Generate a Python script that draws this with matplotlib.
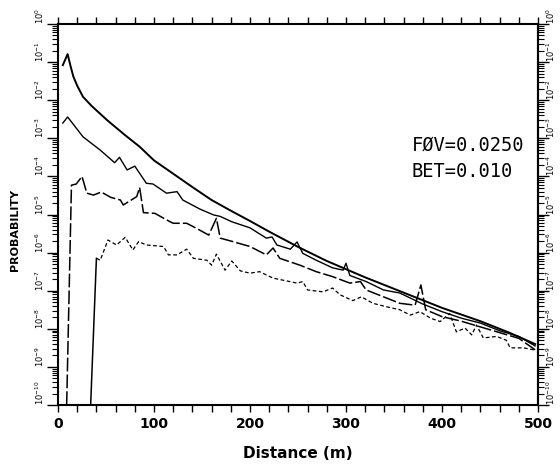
import matplotlib
matplotlib.use('Agg')
import matplotlib.pyplot as plt
import numpy as np
from matplotlib.ticker import FixedLocator, LogLocator, NullFormatter

# Values (distance in m, probability as log10)
a_x = [5, 10, 13, 16, 20, 26, 35, 51, 70, 85, 100, 120, 140, 160, 180,
       200, 220, 250, 280, 320, 360, 400, 440, 470, 497]
a_log = [-1.08, -0.79, -1.10, -1.38, -1.62, -1.91, -2.15, -2.52, -2.92,
         -3.22, -3.58, -3.93, -4.28, -4.62, -4.90, -5.17, -5.45, -5.85,
         -6.22, -6.65, -7.05, -7.45, -7.80, -8.10, -8.40]

b_x = [5, 10, 26, 44, 59, 64, 72, 80, 92, 99, 113, 124, 130, 148, 162,
       169, 181, 200, 217, 223, 228, 242, 249, 255, 269, 286, 297, 300,
       304, 321, 339, 356, 380, 400, 420, 440, 460, 480, 497]
b_log = [-2.60, -2.44, -2.96, -3.31, -3.64, -3.50, -3.83, -3.73, -4.18,
         -4.20, -4.44, -4.40, -4.62, -4.86, -5.01, -5.05, -5.19, -5.35,
         -5.62, -5.59, -5.80, -5.91, -5.72, -6.02, -6.20, -6.40, -6.46,
         -6.28, -6.60, -6.76, -6.98, -7.06, -7.35, -7.55, -7.72, -7.85,
         -8.05, -8.20, -8.45]

c_x = [9, 14, 19, 25, 30, 37, 45, 55, 65, 68, 82, 85, 89, 101, 113, 120,
       134, 144, 157, 165, 169, 182, 200, 217, 224, 231, 252, 269, 286,
       304, 315, 321, 339, 356, 372, 378, 383, 400, 420, 440, 460, 480, 497]
c_log = [-10.0, -4.23, -4.20, -4.00, -4.44, -4.49, -4.41, -4.55, -4.62,
         -4.75, -4.53, -4.29, -4.95, -4.97, -5.14, -5.23, -5.23, -5.36,
         -5.54, -5.10, -5.62, -5.71, -5.84, -6.06, -5.88, -6.15, -6.33,
         -6.50, -6.63, -6.80, -6.76, -6.98, -7.16, -7.33, -7.38, -6.85,
         -7.50, -7.68, -7.80, -7.95, -8.10, -8.25, -8.55]

d_x = [34, 40, 44, 52, 61, 70, 78, 84, 92, 110, 115, 124, 134, 141, 155,
       160, 165, 174, 181, 190, 200, 210, 224, 249, 255, 260, 276, 286,
       294, 307, 316, 328, 342, 356, 367, 377, 388, 398, 408, 415, 424,
       431, 436, 443, 457, 467, 471, 485, 497]
d_log = [-10.0, -6.15, -6.20, -5.67, -5.80, -5.60, -5.93, -5.71, -5.80,
         -5.84, -6.06, -6.06, -5.91, -6.15, -6.20, -6.33, -6.04, -6.46,
         -6.22, -6.48, -6.54, -6.50, -6.67, -6.80, -6.76, -6.98, -7.03,
         -6.93, -7.11, -7.26, -7.16, -7.33, -7.42, -7.50, -7.64, -7.55,
         -7.72, -7.81, -7.60, -8.08, -7.98, -8.16, -7.90, -8.24, -8.20,
         -8.30, -8.50, -8.50, -8.56]

x_major = [0, 100, 200, 300, 400, 500]
y_decades = list(range(-10, 1))
y_major = [10.0 ** d for d in y_decades]

fig = plt.figure(figsize=(5.6, 4.68), dpi=100)
ax = fig.add_axes([0.1036, 0.1346, 0.8571, 0.8141])

ax.plot(a_x, 10.0 ** np.array(a_log), color='black', lw=1.4)
ax.plot(b_x, 10.0 ** np.array(b_log), color='black', lw=1.0)
ax.plot(c_x, 10.0 ** np.array(c_log), color='black', lw=1.1,
        dashes=(9, 2))
# the short-dash curve rises with a solid stroke, then turns dashed
d_y = 10.0 ** np.array(d_log)
ax.plot(d_x[:2], d_y[:2], color='black', lw=1.1)
ax.plot(d_x[1:], d_y[1:], color='black', lw=0.9, dashes=(3, 2))

ax.set_xlim(0, 500)
ax.set_yscale('log')
ax.set_ylim(1e-10, 1)

ax.set_xticks(x_major)
ax.xaxis.set_minor_locator(FixedLocator(np.arange(0, 501, 20)))
ax.yaxis.set_major_locator(FixedLocator(y_major))
ax.yaxis.set_minor_locator(LogLocator(base=10, subs=np.arange(2, 10),
                                      numticks=20))
ax.yaxis.set_minor_formatter(NullFormatter())

ax.tick_params(axis='x', which='both', direction='out', top=True,
               bottom=True, length=5, width=1.0)
ax.tick_params(axis='y', which='major', direction='out', left=True,
               right=True, labelright=False, length=8, width=1.0, pad=0.5,
               labelsize=6, labelrotation=90)
ax.tick_params(axis='y', which='minor', direction='out', left=True,
               right=True, length=4, width=0.8)
for lab in ax.get_xticklabels():
    lab.set_fontweight('bold')
    lab.set_fontsize(10)
for lab in ax.get_yticklabels():
    lab.set_va('bottom')

# right-hand labels sit a little closer to the frame
sec = ax.secondary_yaxis('right')
sec.set_yticks(y_major)
sec.yaxis.set_minor_formatter(NullFormatter())
sec.tick_params(which='both', length=0, pad=5, labelsize=6,
                labelrotation=90)
for lab in sec.get_yticklabels():
    lab.set_va('bottom')
sec.spines['right'].set_linewidth(1.5)

for sp in ax.spines.values():
    sp.set_linewidth(1.5)

ax.set_xlabel('Distance (m)', fontsize=11, fontweight='bold', labelpad=11)
fig.text(0.027, 0.508, 'PROBABILITY', rotation=90, ha='center',
         va='center', fontsize=8, fontweight='bold',
         family=['Liberation Sans Narrow', 'DejaVu Sans'])

ax.text(0.7375, 0.682, 'F\u00d8V=0.0250', transform=ax.transAxes,
        fontsize=13.5, family='DejaVu Sans Mono', va='center')
ax.text(0.7375, 0.612, 'BET=0.010', transform=ax.transAxes,
        fontsize=13.5, family='DejaVu Sans Mono', va='center')

fig.savefig('out.png', dpi=100)
